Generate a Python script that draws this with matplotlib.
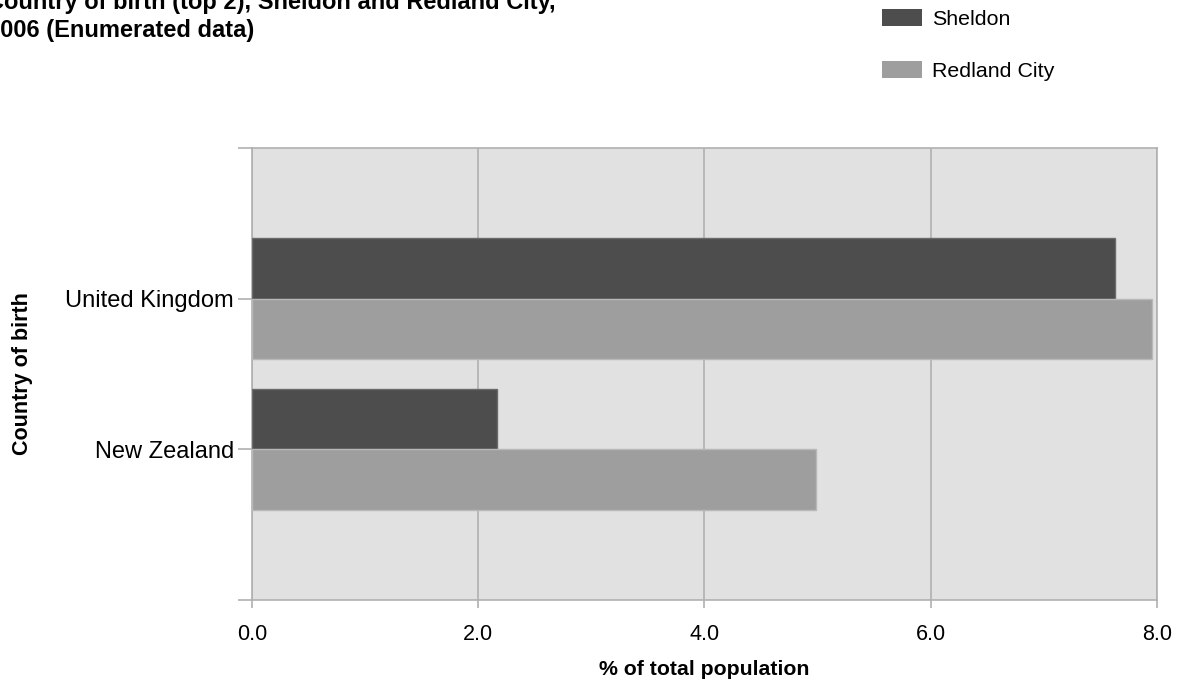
import numpy as np
import matplotlib.pyplot as plt

plt.rcParams['font.family'] = ['Liberation Sans', 'DejaVu Sans']

# data
countries = ['New Zealand', 'United Kingdom']
sheldon = [2.17, 7.63]
redland = [4.99, 7.96]
series_names = ['Sheldon', 'Redland City']

dark = '#4d4d4d'
light = '#9e9e9e'
grid_c = '#b0b0b0'

fig = plt.figure(figsize=(11.86, 6.84), dpi=100)
ax = fig.add_axes([0.2125, 0.1228, 0.763, 0.6608])
ax.set_facecolor('#e1e1e1')

pos = np.arange(1, len(countries) + 1)
h = 0.4
ax.barh(pos + h / 2, sheldon, height=h, color=dark, edgecolor='#6a6a6a', lw=1, label=series_names[0], zorder=3)
ax.barh(pos - h / 2, redland, height=h, color=light, edgecolor='#b8b8b8', lw=1, label=series_names[1], zorder=3)

ax.set_xlim(0, 8)
ax.set_ylim(0, 3)
ax.set_xticks([0, 2, 4, 6, 8])
ax.set_xticklabels(['0.0', '2.0', '4.0', '6.0', '8.0'], fontsize=15.5)
ax.set_yticks([0, 1, 2, 3])
ax.set_yticklabels([''] + countries + [''], fontsize=17)

ax.xaxis.grid(True, color=grid_c, lw=1.2, zorder=0)
ax.set_axisbelow(True)
for s in ax.spines.values():
    s.set_color(grid_c)
    s.set_linewidth(1.2)
ax.tick_params(axis='y', length=10, width=1.2, color=grid_c, pad=3)
ax.tick_params(axis='x', length=6, width=1.2, color=grid_c, pad=11)

ax.set_xlabel('% of total population', fontsize=15.3, fontweight='bold', labelpad=11)
ax.set_ylabel('Country of birth', fontsize=15.5, fontweight='bold', labelpad=23)

fig.text(-0.011, 0.9459, 'Country of birth (top 2), Sheldon and Redland City,\n2006 (Enumerated data)',
         fontsize=17, fontweight='bold', ha='left', va='baseline', linespacing=1.3)

handles, labels = ax.get_legend_handles_labels()
leg = fig.legend(handles, labels, loc='upper left', bbox_to_anchor=(0.7275, 1.015),
                 frameon=False, fontsize=15.4, handlelength=1.87, handleheight=0.84,
                 labelspacing=1.52, handletextpad=0.45)
for p in leg.get_patches():
    p.set_edgecolor('none')

fig.savefig('out.png', dpi=100)
